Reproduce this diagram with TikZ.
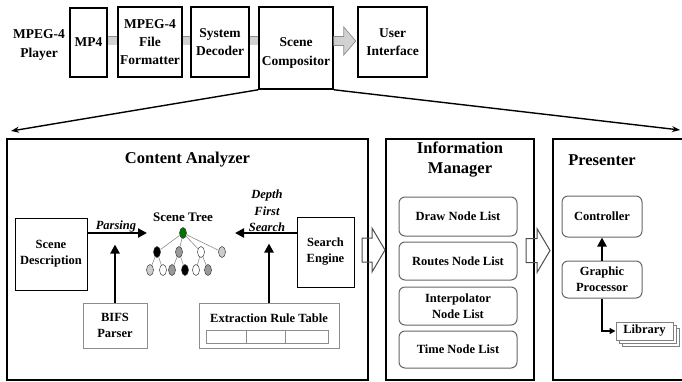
\documentclass[tikz,border=0pt]{standalone}
\usepackage{fontspec}
\setmainfont{Liberation Serif}
\usetikzlibrary{arrows.meta,shapes.geometric,shadows,calc}

% fat block arrow: style, tail point, shaft length, head length, shaft half width, head half width
\newcommand{\fatarrow}[6]{%
  \draw[#1] #2 ++(0,-#5) -- ++(#3,0) -- ++(0,{#5-#6}) -- ++(#4,#6) -- ++(-#4,#6) -- ++(0,{#5-#6}) -- ++(-#3,0) -- cycle;}

\begin{document}
\begin{tikzpicture}[x=1pt,y=-1pt,
  topbox/.style={rectangle,draw,line width=1.5pt,align=center,inner sep=1pt,
    font=\fontsize{13.5}{18}\selectfont\bfseries},
  toptext/.style={align=center,font=\fontsize{13.5}{19}\selectfont\bfseries},
  bigbox/.style={rectangle,draw,line width=2pt,anchor=north west,minimum height=241pt},
  boxtitle/.style={align=center,font=\fontsize{16.5}{20}\selectfont\bfseries},
  box/.style={rectangle,draw,line width=1pt,align=center,inner sep=1pt,
    font=\fontsize{12.5}{16}\selectfont\bfseries},
  boxtext/.style={align=center,font=\fontsize{12.5}{16}\selectfont\bfseries},
  grbox/.style={box,draw=black!45},
  rbox/.style={box,draw=black!60,rounded corners=6pt},
  lbl/.style={align=center,font=\fontsize{12.5}{16.5}\selectfont\bfseries\itshape},
  leaf/.style={ellipse,draw=black!75,line width=0.5pt,minimum width=7pt,minimum height=11pt,inner sep=0pt},
  twig/.style={draw=black!45,line width=0.6pt},
  bar/.style={draw=black!45,line width=0.7pt,double=black!18,double distance=8pt},
  flow/.style={line width=2.4pt,-{Triangle[length=9pt,width=9pt]}},
  thinflow/.style={line width=1.8pt,-{Triangle[length=6pt,width=6pt]}},
  expand/.style={line width=1.4pt,-{Stealth[length=8pt,width=6pt]}},
  grarrow/.style={draw=black!45,fill=black!18,line width=0.7pt},
  wharrow/.style={draw=black!70,line width=1pt}
]
\clip (0,0) rectangle (682,381);

% top row
\node[toptext] (player) at (39,45) {MPEG-4\\Player};
\node[topbox,minimum width=37pt,minimum height=69pt] (mp4) at (88.5,42.5) {MP4};
\node[topbox,minimum width=64pt,minimum height=70pt] (fmt) at (150,42) {MPEG-4\\File\\Formatter};
\node[topbox,minimum width=58pt,minimum height=70pt] (sysdec) at (220,42) {System\\Decoder};
\node[topbox,minimum width=74pt,minimum height=82pt] (comp) at (296,48) {};
\node[toptext] (comptxt) at (296,53) {Scene\\Compositor};
\node[topbox,minimum width=69pt,minimum height=70pt] (ui) at (392.5,42) {User\\Interface};

\draw[bar] ($(mp4.east)+(0,-2)$) -- ($(mp4.east -| fmt.west)+(0,-2)$);
\draw[bar] ($(fmt.east)+(0,-1.5)$) -- ($(fmt.east -| sysdec.west)+(0,-1.5)$);
\draw[bar] ($(sysdec.east)+(0,-1.5)$) -- ($(sysdec.east -| comp.west)+(0,-1.5)$);
\fatarrow{grarrow}{($(comp.east |- ui.west)+(0,-1)$)}{10}{12}{4.5}{14}

% zoom lines
\coordinate (lt) at (11,131);
\coordinate (rt) at (680,130);
\draw[expand] (comp.south west) -- (lt);
\draw[expand] (comp.south east) -- (rt);

% big boxes
\node[bigbox,minimum width=361pt] (ca) at (6,138) {};
\node[bigbox,minimum width=148pt] (im) at (385,138) {};
\node[bigbox,minimum width=140pt] (pres) at (552,138) {};
\node[boxtitle] (catitle) at ($(ca.north)+(0,22)$) {Content Analyzer};
\node[boxtitle] (imtitle) at ($(im.north)+(0,22)$) {Information\\Manager};
\node[boxtitle] (prestitle) at ($(pres.north west)+(50,22)$) {Presenter};

% content analyzer
\node[box,minimum width=72pt,minimum height=72pt] (scdesc) at (51,254) {Scene\\Description};
\node[grbox,minimum width=64pt,minimum height=45pt] (bifs) at (115,325.5) {BIFS\\Parser};
\node[box,minimum width=57pt,minimum height=70pt] (sceng) at (325.5,252) {Search\\Engine};
\node[grbox,minimum width=140pt,minimum height=45pt] (ert) at (269,325.5) {};
\node[boxtext] (erttxt) at (269,318) {Extraction Rule Table};
\draw[black!45,line width=0.8pt] ($(ert.south west)+(8,-5)$) rectangle ($(ert.south east)+(-11,-18)$);
\draw[black!45,line width=0.8pt] ($(ert.south west)+(48,-5)$) -- ++(0,-13);
\draw[black!45,line width=0.8pt] ($(ert.south west)+(87,-5)$) -- ++(0,-13);

% scene tree
\node[boxtext,font=\fontsize{13}{16}\selectfont\bfseries] (treetxt) at (183,217) {Scene Tree};
\node[leaf,fill=green!45!black] (root) at (183,233) {};
\node[leaf,fill=black] (c1) at (157,252) {};
\node[leaf,fill=black!40] (c2) at (179,252) {};
\node[leaf,fill=white] (c3) at (201,252) {};
\node[leaf,fill=black!20] (c4) at (222,252) {};
\node[leaf,fill=black!20] (g1) at (150,270) {};
\node[leaf,fill=white] (g2) at (163,270) {};
\node[leaf,fill=black!40] (g3) at (172,270) {};
\node[leaf,fill=black] (g4) at (185,270) {};
\node[leaf,fill=white] (g5) at (196,270) {};
\node[leaf,fill=black!40] (g6) at (208,270) {};
\foreach \a/\b in {root/c1,root/c2,root/c3,root/c4,c1/g1,c1/g2,c2/g3,c2/g4,c3/g5,c3/g6}
  \draw[twig] (\a) -- (\b);

\coordinate (pin) at (147,233);
\draw[flow] (scdesc.east |- pin) -- (pin);
\node[lbl] (parsing) at (116,226) {Parsing};
\draw[flow] (bifs.north) -- ++(0,-58);
\coordinate (pout) at (235,233);
\draw[flow] (sceng.west |- pout) -- (pout);
\node[lbl] (dfs) at (267,211) {Depth\\First\\Search};
\draw[flow] (ert.north) -- ++(0,-59);

\fatarrow{wharrow}{($(ca.east |- sceng.east)+(-7,-2)$)}{10}{13}{12}{22}

% information manager
\node[rbox,minimum width=118pt,minimum height=39pt] (dnl) at (458,216.5) {Draw Node List};
\node[rbox,minimum width=118pt,minimum height=38pt] (rnl) at (458,261) {Routes Node List};
\node[rbox,minimum width=118pt,minimum height=38pt] (inl) at (458,306) {Interpolator\\Node List};
\node[rbox,minimum width=118pt,minimum height=37pt] (tnl) at (458,349.5) {Time Node List};

\fatarrow{wharrow}{($(im.east |- sceng.east)+(-9,-1.5)$)}{11}{13}{12}{22}

% presenter
\node[rbox,minimum width=80pt,minimum height=41pt] (ctrl) at (602,216.5) {Controller};
\node[rbox,minimum width=80pt,minimum height=37pt] (gp) at (602,279.5) {Graphic\\Processor};
\draw[flow] (gp.north) -- (ctrl.south);
\node[box,draw=black!50,fill=white,minimum width=57pt,minimum height=18pt,
  double copy shadow={shadow xshift=3pt,shadow yshift=-3pt,draw=black!50,fill=white}] (lib) at (644.5,331) {Library};
\draw[thinflow] (gp.south) |- (lib.west);

\end{tikzpicture}
\end{document}
